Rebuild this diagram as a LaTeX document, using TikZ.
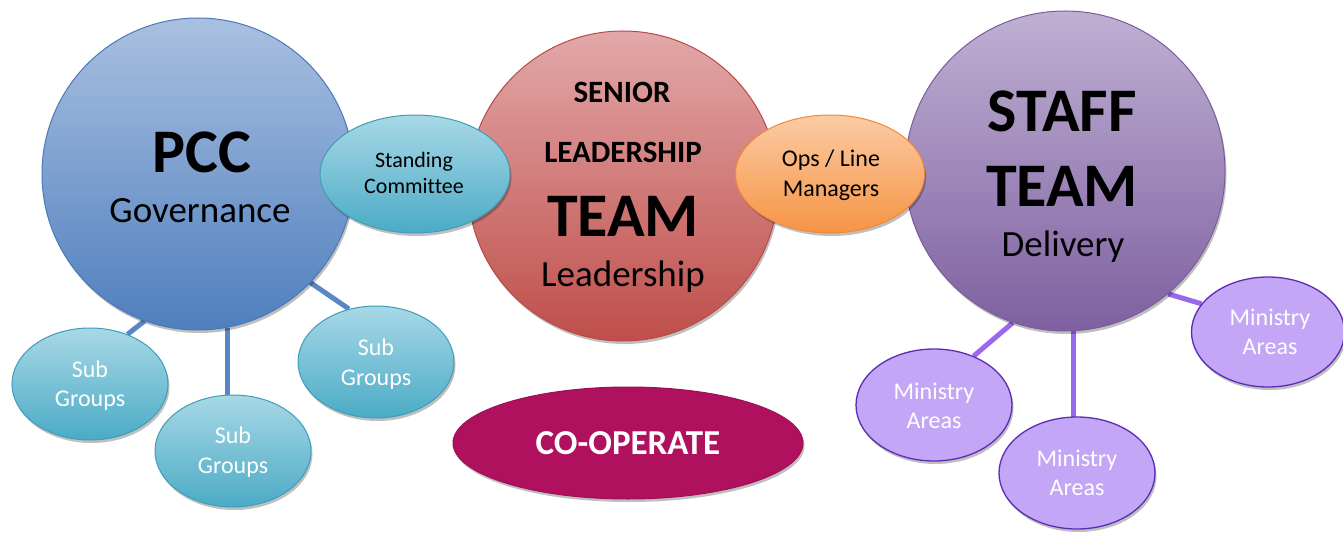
\documentclass[tikz,border=0pt]{standalone}
\usepackage{fontspec}
\setmainfont{Carlito}[Ligatures=NoCommon]
\usetikzlibrary{shapes.geometric,shadows,backgrounds}
\definecolor{pccTop}{HTML}{A9C0E0}
\definecolor{pccBot}{HTML}{4F7FBE}
\definecolor{pccLine}{HTML}{4A78B8}
\definecolor{aquaTop}{HTML}{A8D8E6}
\definecolor{aquaBot}{HTML}{4BABC6}
\definecolor{aquaLine}{HTML}{3E9DB8}
\definecolor{redTop}{HTML}{E2A8A8}
\definecolor{redBot}{HTML}{BF4E4B}
\definecolor{redLine}{HTML}{B84A47}
\definecolor{orTop}{HTML}{FBCBA4}
\definecolor{orBot}{HTML}{F69444}
\definecolor{orLine}{HTML}{EE8A3A}
\definecolor{puTop}{HTML}{BFB0D3}
\definecolor{puBot}{HTML}{7E60A0}
\definecolor{puLine}{HTML}{7A5C9C}
\definecolor{minFill}{HTML}{C3A6F6}
\definecolor{minLine}{HTML}{5B2DB5}
\definecolor{coFill}{HTML}{B0115F}
\definecolor{coLine}{HTML}{9E0F55}
\definecolor{blueConn}{HTML}{5B86C6}
\definecolor{purConn}{HTML}{9A68EE}
\begin{document}
\begin{tikzpicture}[x=1pt,y=-1pt,
  shad/.style={drop shadow={shadow xshift=1.5pt,shadow yshift=-3pt,opacity=.25,fill=black}},
  bigcirc/.style={circle,inner sep=0pt,minimum size=#1,line width=1pt,shad},
  smallell/.style={ellipse,inner sep=0pt,minimum width=156pt,minimum height=112pt,line width=1pt,shad},
  aqua/.style={top color=aquaTop,bottom color=aquaBot,draw=aquaLine},
  ministry/.style={smallell,fill=minFill,draw=minLine,line width=1.3pt},
  conn/.style={line width=5pt},
  tx/.style={anchor=base,inner sep=0pt},
  huge/.style={tx,font=\fontsize{62}{62}\selectfont\bfseries},
  big/.style={tx,font=\fontsize{37}{37}\selectfont},
  mid/.style={tx,font=\fontsize{31}{31}\selectfont\bfseries},
  small/.style={tx,font=\fontsize{24}{24}\selectfont},
  tiny/.style={tx,font=\fontsize{22}{22}\selectfont},
  wsmall/.style={small,text=white}
]
\useasboundingbox (0,0) rectangle (1343,537);

% big circles
\node[bigcirc=312pt,top color=pccTop,bottom color=pccBot,draw=pccLine] (pcc) at (198,174) {};
\node[bigcirc=310pt,top color=redTop,bottom color=redBot,draw=redLine] (slt) at (623,186) {};
\node[bigcirc=320pt,top color=puTop,bottom color=puBot,draw=puLine] (staff) at (1065,171) {};

% linking ellipses
\node[smallell,minimum width=190pt,minimum height=118pt,aqua] (stand) at (415,174) {};
\node[smallell,minimum width=189pt,minimum height=118pt,top color=orTop,bottom color=orBot,draw=orLine] (ops) at (830,174) {};

% sub groups
\node[smallell,aqua] (sg1) at (90,384) {};
\node[smallell,aqua] (sg2) at (233,451) {};
\node[smallell,aqua] (sg3) at (376,362) {};

% ministry areas
\node[ministry] (mn1) at (934,405) {};
\node[ministry] (mn2) at (1077,473) {};
\node[ministry,minimum width=153pt,minimum height=110pt] (mn3) at (1268,332) {};

% co-operate
\node[smallell,minimum width=350pt,minimum height=112pt,fill=coFill,draw=coLine] (coop) at (628,443) {};

% connectors
\begin{pgfonlayer}{background}
\draw[conn,blueConn] (pcc.250) -- (sg1.53);
\draw[conn,blueConn] (pcc.281) -- (pcc.281 |- sg2.center);
\draw[conn,blueConn] (pcc.316) -- (sg3.117);
\draw[conn,purConn] (staff.251) -- (mn1.51);
\draw[conn,purConn] (staff.273) -- (staff.273 |- mn2.center);
\draw[conn,purConn] (staff.310) -- (mn3.157);
\end{pgfonlayer}

% texts
\node[huge] (pccA) at (202,173) {PCC};
\node[big] (pccB) at (200,223) {Governance};

\node[tiny] (standA) at (414,168) {Standing};
\node[tiny] (standB) at (414,194) {Committee};

\node[mid] (sltA) at (622,103) {SENIOR};
\node[mid] (sltB) at (623,163) {LEADERSHIP};
\node[huge] (sltC) at (623,237) {TEAM};
\node[big] (sltD) at (623,287) {Leadership};

\node[small] (opsA) at (831,167) {Ops / Line};
\node[small] (opsB) at (831,197) {Managers};

\node[huge] (staffA) at (1062,132) {STAFF};
\node[huge] (staffB) at (1062,207) {TEAM};
\node[big] (staffC) at (1063,257) {Delivery};

\node[wsmall] (sg1A) at (90,377) {Sub};
\node[wsmall] (sg1B) at (90,406) {Groups};
\node[wsmall] (sg2A) at (233,443) {Sub};
\node[wsmall] (sg2B) at (233,473) {Groups};
\node[wsmall] (sg3A) at (376,355) {Sub};
\node[wsmall] (sg3B) at (376,385) {Groups};

\node[wsmall] (mn1A) at (934,399) {Ministry};
\node[wsmall] (mn1B) at (934,428) {Areas};
\node[wsmall] (mn2A) at (1077,466) {Ministry};
\node[wsmall] (mn2B) at (1077,495) {Areas};
\node[wsmall] (mn3A) at (1270,325) {Ministry};
\node[wsmall] (mn3B) at (1270,354) {Areas};

\node[tx,font=\fontsize{35}{35}\selectfont\bfseries,text=white] (coopA) at (628,454) {CO-OPERATE};
\end{tikzpicture}
\end{document}
